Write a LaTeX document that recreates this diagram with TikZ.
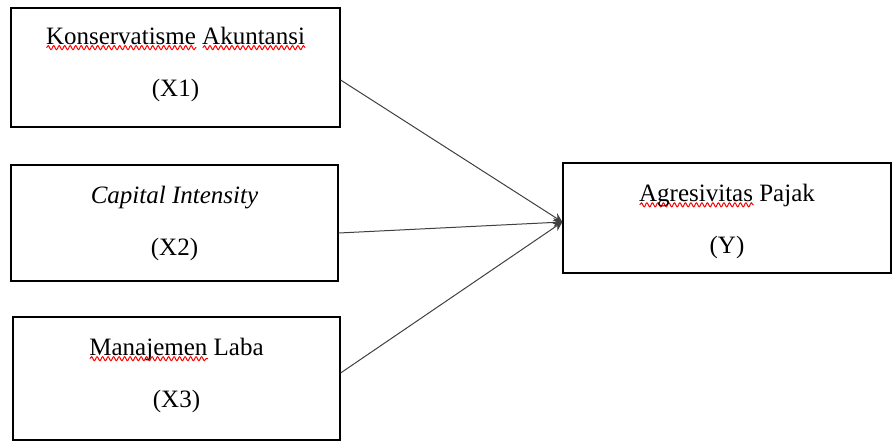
\documentclass[tikz,border=0pt]{standalone}
\usepackage{fontspec}
\setmainfont{Liberation Serif}
\usetikzlibrary{arrows.meta,decorations.pathmorphing}
\tikzset{
  kotak/.style   = {draw, line width=1.2pt, align=center, inner sep=0pt,
                    font=\fontsize{25}{52}\selectfont},
  panah/.style   = {-{Stealth[length=9pt,width=9pt]}, line width=1pt, black!75},
  gelombang/.style = {red, line width=1pt, decorate,
                    decoration={snake, amplitude=2pt, segment length=5.5pt}}
}
% garis merah bergelombang di bawah kata
\newcommand{\ejaan}[1]{\setbox0\hbox{#1}\rlap{\raisebox{-6pt}{\tikz\draw[gelombang] (0,0) -- (\wd0,0);}}\box0}

\begin{document}
\begin{tikzpicture}[x=1pt,y=-1pt]
		\useasboundingbox (0,0) rectangle (893,442);
		\node[kotak, minimum width=329pt, minimum height=119pt] (x1) at (175.5,67.5) {\ejaan{Konservatisme}\hspace{.25em}\ejaan{Akuntansi}\\ (X1)\rule[-12pt]{0pt}{12pt}};
		\node[kotak, minimum width=327pt, minimum height=116pt] (x2) at (174.5,223) {\textit{Capital Intensity}\\ (X2)};
		\node[kotak, minimum width=327pt, minimum height=123pt] (x3) at (176.5,378.5) {\ejaan{Manajemen}\hspace{.25em}Laba\\ (X3)\rule[-12pt]{0pt}{12pt}};
		\node[kotak, minimum width=328pt, minimum height=110pt] (y) at (727,218) {\rule{0pt}{24pt}\ejaan{Agresivitas}\hspace{.25em}Pajak\\ (Y)};

		\draw[panah] ([yshift=-12.5pt]x1.east) -- ([yshift=-4pt]y.west);
		\draw[panah] ([yshift=-10pt]x2.east) -- ([yshift=-4pt]y.west);
		\draw[panah] ([yshift=5.5pt]x3.east) -- ([yshift=-4pt]y.west);
	\end{tikzpicture}
\end{document}
